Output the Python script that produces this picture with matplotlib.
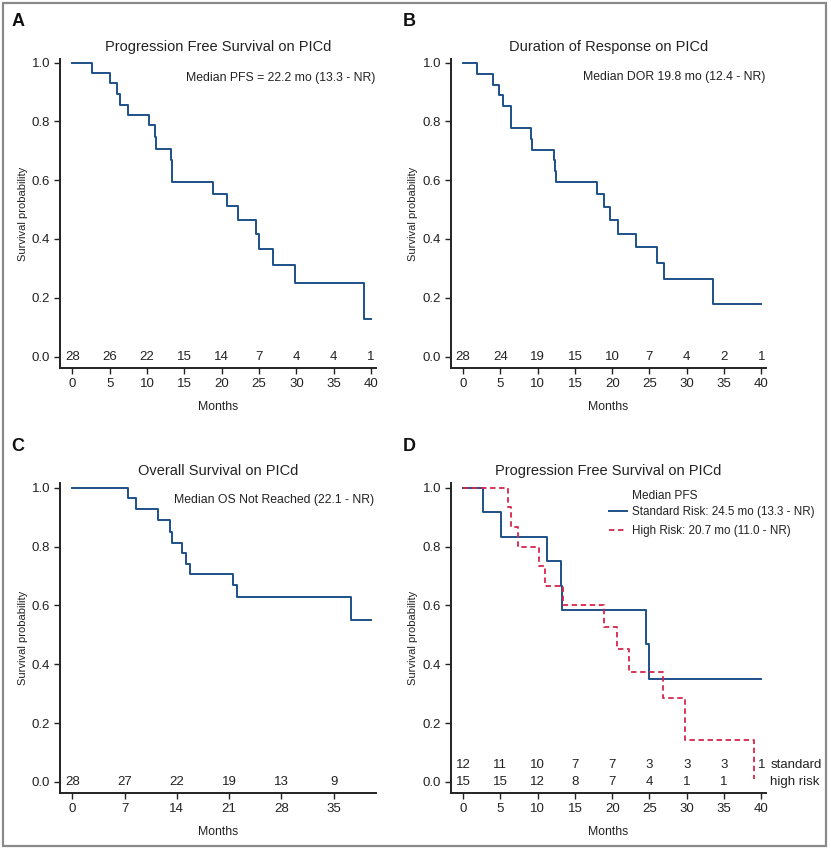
import numpy as np
import matplotlib.pyplot as plt
from matplotlib.patches import Rectangle

# ---- datos ----
# Panel A: PFS
pfs_t = [0, 2.7, 5.1, 6.0, 6.4, 7.5, 10.2, 11.1, 11.25, 13.25, 13.35, 18.9, 20.7, 22.2, 24.6, 25.0, 26.9, 29.8, 39.0, 40]
pfs_s = [1.0, 0.964, 0.929, 0.893, 0.857, 0.821, 0.786, 0.745, 0.706, 0.668, 0.594, 0.553, 0.511, 0.464, 0.418, 0.367, 0.313, 0.251, 0.126, 0.126]
pfs_risk = [28, 26, 22, 15, 14, 7, 4, 4, 1]

# Panel B: DOR
dor_t = [0, 1.9, 4.05, 4.85, 5.35, 6.4, 6.5, 9.1, 9.25, 12.2, 12.35, 12.45, 18.0, 18.95, 19.75, 20.8, 23.2, 26.05, 26.95, 33.45, 40]
dor_s = [1.0, 0.961, 0.924, 0.888, 0.852, 0.815, 0.778, 0.740, 0.704, 0.667, 0.630, 0.594, 0.553, 0.510, 0.464, 0.418, 0.373, 0.319, 0.265, 0.177, 0.177]
dor_risk = [28, 24, 19, 15, 10, 7, 4, 2, 1]

# Panel C: OS
os_t = [0, 7.45, 8.55, 11.45, 13.05, 13.4, 14.75, 15.2, 15.75, 21.5, 22.1, 37.35, 39.95]
os_s = [1.0, 0.964, 0.927, 0.890, 0.851, 0.813, 0.778, 0.741, 0.706, 0.669, 0.630, 0.551, 0.551]
os_risk = [28, 27, 22, 19, 13, 9]
os_ticks = [0, 7, 14, 21, 28, 35]

# Panel D: PFS por riesgo
std_t = [0, 2.7, 5.05, 11.3, 13.2, 13.3, 24.55, 24.95, 40]
std_s = [1.0, 0.917, 0.833, 0.750, 0.667, 0.583, 0.467, 0.350, 0.350]
std_risk = [12, 11, 10, 7, 7, 3, 3, 3, 1]

high_t = [0, 6.0, 6.4, 7.4, 10.25, 11.0, 13.4, 18.95, 20.65, 22.2, 26.8, 29.75, 39.0]
high_s = [1.0, 0.933, 0.867, 0.800, 0.733, 0.667, 0.600, 0.525, 0.450, 0.375, 0.286, 0.143, 0.008]
high_risk = [15, 15, 12, 8, 7, 4, 1, 1]

ticks40 = [0, 5, 10, 15, 20, 25, 30, 35, 40]

azul = '#1d5089'
rojo = '#d7264c'
gris = '#222222'
fuente = 'Liberation Sans'
estrecha = ['Liberation Sans Narrow', 'Liberation Sans', 'DejaVu Sans']

W, H = 831, 849
fig = plt.figure(figsize=(W / 100, H / 100), dpi=100)
fig.patch.set_facecolor('white')

# marco gris alrededor
fig.add_artist(Rectangle((2.5 / W, 3 / H), (826 - 2.5) / W, (846 - 3) / H,
                         transform=fig.transFigure, fill=False,
                         edgecolor='#8a8a8a', linewidth=1.6))


def ejes(left, top, right, bottom, ylo, yhi):
    ax = fig.add_axes([left / W, 1 - bottom / H, (right - left) / W, (bottom - top) / H])
    ax.set_xlim(-1.65, 40.62)
    ax.set_ylim(ylo, yhi)
    for s in ['top', 'right']:
        ax.spines[s].set_visible(False)
    for s in ['left', 'bottom']:
        ax.spines[s].set_linewidth(1.4)
        ax.spines[s].set_color(gris)
    ax.set_yticks([0, 0.2, 0.4, 0.6, 0.8, 1.0])
    ax.set_yticklabels(['0.0', '0.2', '0.4', '0.6', '0.8', '1.0'])
    ax.tick_params(length=4, width=1, color=gris, labelsize=9.5, labelcolor=gris, pad=3)
    for lab in ax.get_xticklabels() + ax.get_yticklabels():
        lab.set_family(fuente)
    ax.set_ylabel('Survival probability', family=estrecha, fontsize=8.0, color=gris, labelpad=3)
    ax.set_xlabel('Months', family=estrecha, fontsize=8.8, color=gris, labelpad=8)
    return ax


def ticks_x(ax, valores):
    ax.set_xticks(valores)
    ax.set_xticklabels([str(v) for v in valores], family=fuente)


def riesgo(ax, xs, nums, y):
    for x, n in zip(xs, nums):
        ax.text(x, y, str(n), ha='center', va='center', fontsize=9.5, family=fuente, color=gris)


def titulo(ax, texto):
    ax.set_title(texto, fontsize=10.5, family=fuente, color=gris, pad=6)


# ---- A ----
axA = ejes(60, 59, 375.7, 368, -0.039, 1.012)
ticks_x(axA, ticks40)
axA.plot(pfs_t, pfs_s, drawstyle='steps-post', color=azul, lw=1.4)
riesgo(axA, ticks40, pfs_risk, 0.0)
titulo(axA, 'Progression Free Survival on PICd')
axA.text(40.6, 0.948, 'Median PFS = 22.2 mo (13.3 - NR)', ha='right', va='center',
         fontsize=8.8, family=fuente, color=gris)

# ---- B ----
axB = ejes(450.7, 59, 766, 368, -0.039, 1.012)
ticks_x(axB, ticks40)
axB.plot(dor_t, dor_s, drawstyle='steps-post', color=azul, lw=1.4)
riesgo(axB, ticks40, dor_risk, 0.0)
titulo(axB, 'Duration of Response on PICd')
axB.text(40.6, 0.952, 'Median DOR 19.8 mo (12.4 - NR)', ha='right', va='center',
         fontsize=8.8, family=fuente, color=gris)

# ---- C ----
axC = ejes(60, 483.3, 375.7, 793.3, -0.039, 1.015)
ticks_x(axC, os_ticks)
axC.plot(os_t, os_s, drawstyle='steps-post', color=azul, lw=1.4)
riesgo(axC, os_ticks, os_risk, 0.0)
titulo(axC, 'Overall Survival on PICd')
axC.text(40.4, 0.957, 'Median OS Not Reached (22.1 - NR)', ha='right', va='center',
         fontsize=8.8, family=fuente, color=gris)

# ---- D ----
axD = ejes(450.7, 483.3, 766, 793.3, -0.039, 1.015)
ticks_x(axD, ticks40)
axD.plot(std_t, std_s, drawstyle='steps-post', color=azul, lw=1.4,
         label='Standard Risk: 24.5 mo (13.3 - NR)')
axD.plot(high_t, high_s, drawstyle='steps-post', color=rojo, lw=1.3, ls=(0, (3, 2)),
         label='High Risk: 20.7 mo (11.0 - NR)')
riesgo(axD, ticks40, std_risk, 0.057)
riesgo(axD, ticks40[:len(high_risk)], high_risk, 0.0)
axD.text(41.2, 0.057, 'standard', ha='left', va='center', fontsize=9.5, family=fuente,
         color=gris, clip_on=False)
axD.text(41.2, 0.0, 'high risk', ha='left', va='center', fontsize=9.5, family=fuente,
         color=gris, clip_on=False)
titulo(axD, 'Progression Free Survival on PICd')
fig.text(631.7 / W, 1 - 496 / H, 'Median PFS', ha='left', va='center',
         fontsize=8.6, family=fuente, color=gris)
leg = axD.legend(loc='upper left', bbox_to_anchor=(609 / W, 1 - 506 / H),
                 bbox_transform=fig.transFigure, frameon=False, borderpad=0,
                 borderaxespad=0, handlelength=1.5, handletextpad=0.5,
                 labelspacing=0.6, prop={'family': fuente, 'size': 8.4})
for t in leg.get_texts():
    t.set_color(gris)

# letras de los paneles
for letra, x, y in [('A', 18, 22), ('B', 409, 22), ('C', 18, 447), ('D', 409, 447)]:
    fig.text(x / W, 1 - y / H, letra, fontsize=13, fontweight='bold', family=fuente,
             ha='center', va='center', color='#111111')

fig.savefig('out.png', dpi=100)
